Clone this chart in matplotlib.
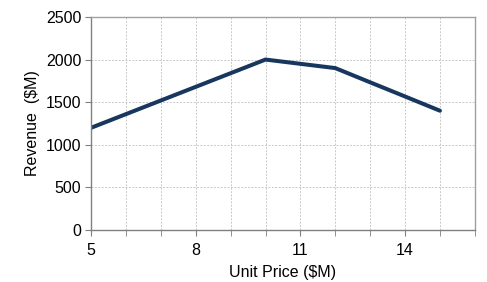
import matplotlib
matplotlib.use("Agg")
import matplotlib.pyplot as plt
from matplotlib.ticker import MultipleLocator

# data
unit_price = [5, 6, 7, 8, 9, 10, 11, 12, 13, 14, 15]
revenue = [1200, 1360, 1520, 1680, 1840, 2000, 1950, 1900, 1733, 1567, 1400]
x_ticks = [5, 8, 11, 14]

plt.rcParams["font.family"] = ["Liberation Sans", "DejaVu Sans"]

fig = plt.figure(figsize=(4.87, 2.82), dpi=100)
ax = fig.add_axes([0.187, 0.184, 0.788, 0.756])

ax.plot(unit_price, revenue, color="#17375E", linewidth=2.9, solid_capstyle="round")

ax.set_xlim(5, 16)
ax.set_ylim(0, 2500)
ax.set_xticks(x_ticks)
ax.xaxis.set_minor_locator(MultipleLocator(1))
ax.yaxis.set_major_locator(MultipleLocator(500))

ax.grid(True, which="both", axis="x", color="#C8C8C8", linestyle=(0, (2, 1.5)), linewidth=0.7)
ax.grid(True, which="major", axis="y", color="#C8C8C8", linestyle=(0, (2, 1.5)), linewidth=0.7)

for s in ax.spines.values():
    s.set_color("#A0A0A0")
    s.set_linewidth(1.0)
ax.spines["left"].set_color("#808080")
ax.spines["bottom"].set_color("#808080")

ax.tick_params(axis="both", which="both", direction="out", length=4, color="#808080", labelsize=11.5)
ax.tick_params(axis="x", pad=5)
ax.tick_params(axis="y", pad=3)

ax.set_xlabel("Unit Price ($M)", fontsize=11.5, labelpad=5)
ax.set_ylabel("Revenue  ($M)", fontsize=11.5, labelpad=4)

fig.savefig("out.png", dpi=100)
